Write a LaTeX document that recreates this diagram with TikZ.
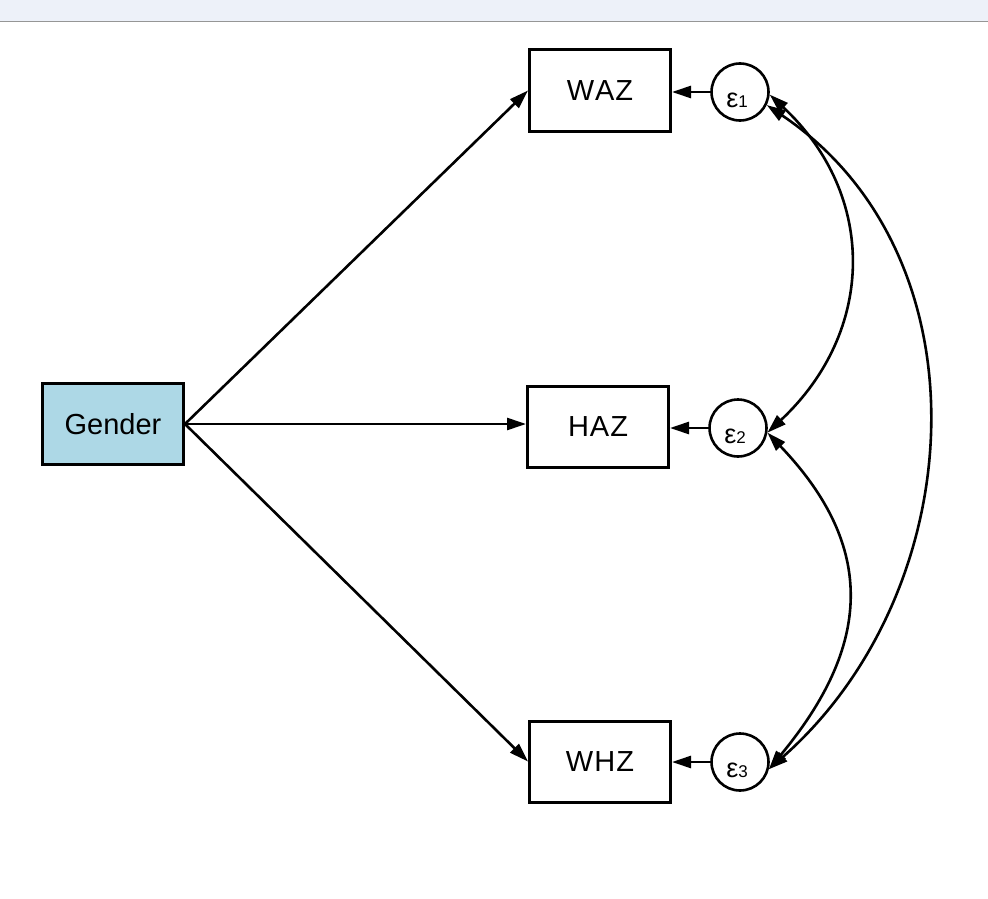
\documentclass[tikz,border=0pt]{standalone}
\usepackage{fontspec}
\setmainfont{Liberation Sans}
\usetikzlibrary{arrows.meta}
\definecolor{barfill}{RGB}{237,241,249}
\definecolor{barline}{RGB}{150,150,150}
\definecolor{genderfill}{RGB}{173,216,230}
\begin{document}
\begin{tikzpicture}[x=1pt,y=-1pt,
  obsbox/.style={draw=black,line width=3pt,minimum width=141pt,minimum height=81pt,inner sep=0pt,
    font=\fontsize{29}{34}\selectfont},
  errc/.style={draw=black,circle,line width=2.6pt,minimum size=57pt,inner sep=0pt},
  elab/.style={inner sep=0pt},
  path/.style={line width=2.6pt,-{Triangle[length=19pt,width=12pt]}},
  cov/.style={line width=2.6pt,{Triangle[length=19pt,width=12pt]}-{Triangle[length=19pt,width=12pt]}}]
\useasboundingbox (0,0) rectangle (988,899);
\fill[white] (0,0) rectangle (988,899);
\fill[barfill] (0,0) rectangle (988,21);
\draw[barline,line width=1.5pt] (0,21.75) -- (988,21.75);

\node[obsbox,fill=genderfill] (G) at (113,424) {Gender};
\node[obsbox] (WAZ) at (600,90.5) {W\kern1pt A\kern1pt Z};
\node[obsbox] (HAZ) at (598,427) {H\kern1pt A\kern1pt Z};
\node[obsbox] (WHZ) at (600,761.5) {W\kern1pt H\kern1pt Z};

\node[errc] (e1) at (740,92) {};
\node[errc] (e2) at (738,428) {};
\node[errc] (e3) at (740,762) {};
\node[elab] (l1) at ([yshift=-8pt,xshift=-3pt]e1.center) {\fontsize{27}{27}\selectfont ε\fontsize{17}{17}\selectfont 1};
\node[elab] (l2) at ([yshift=-8pt,xshift=-3pt]e2.center) {\fontsize{27}{27}\selectfont ε\fontsize{17}{17}\selectfont 2};
\node[elab] (l3) at ([yshift=-8pt,xshift=-3pt]e3.center) {\fontsize{27}{27}\selectfont ε\fontsize{17}{17}\selectfont 3};

\draw[path] (G.east) -- (WAZ.west);
\draw[path] (G.east) -- (G.east -| HAZ.west);
\draw[path] (G.east) -- (WHZ.west);

\draw[path] (e1.west) -- (e1.west -| WAZ.east);
\draw[path] (e2.west) -- (e2.west -| HAZ.east);
\draw[path] (e3.west) -- (e3.west -| WHZ.east);

\draw[cov] (e1.-5) .. controls +(108,101) and +(108,-101) .. (e2.-9);
\draw[cov] (e2.-9) .. controls +(110,115) and +(102,-123) .. (e3.-14);
\draw[cov] (e1.-26) .. controls +(224,151) and +(202,-178) .. (e3.-14);
\end{tikzpicture}
\end{document}
